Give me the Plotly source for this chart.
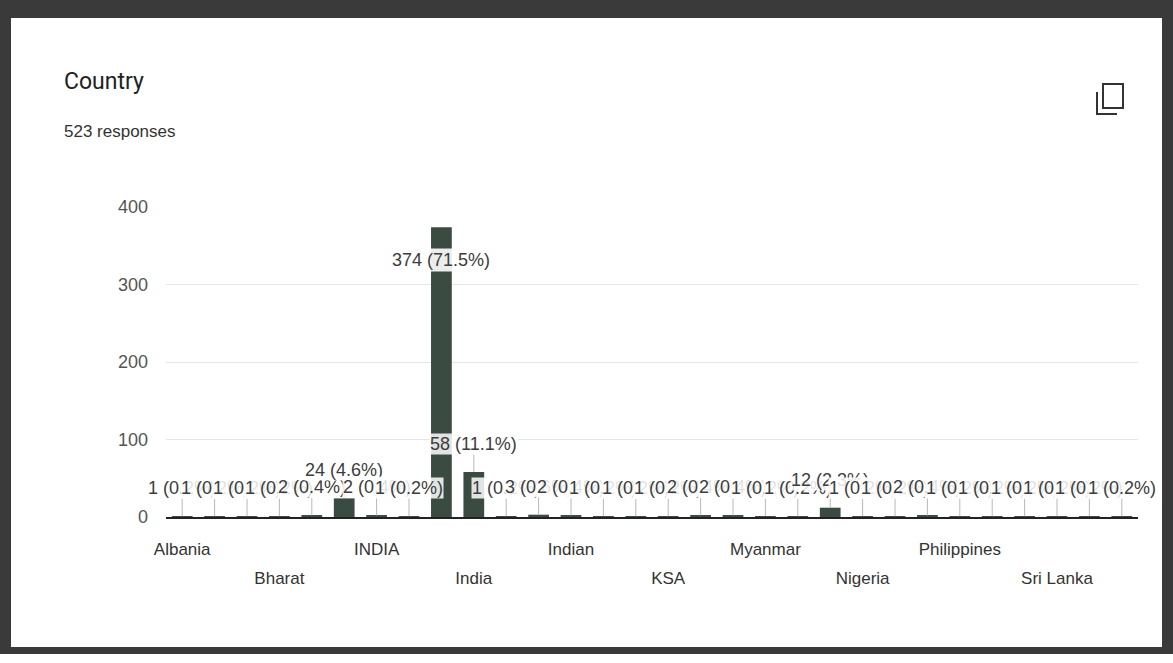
import plotly.graph_objects as go

# ---- data ----
categories = [
    "Albania", "Australia", "Bangladesh", "Bharat", "Bhutan", "Canada",
    "INDIA", "INDIA ", "India", "India ", "India,", "India.",
    "Indian", "Indonesia", "Iran", "KSA", "Kenya", "Malaysia",
    "Myanmar", "NEPAL", "Nepal", "Nigeria", "Oman", "Pakistan",
    "Philippines", "Qatar", "Saudi Arabia", "Sri Lanka", "UAE", "USA",
]
counts = [
    1, 1, 1, 1, 2, 24,
    2, 1, 374, 58, 1, 3,
    2, 1, 1, 1, 2, 2,
    1, 1, 12, 1, 1, 2,
    1, 1, 1, 1, 1, 1,
]
total_responses = 523
y_ticks = [0, 100, 200, 300, 400]
title_text = "Country"
subtitle_text = "523 responses"

# ---- geometry ----
W, H = 1173, 663
L, R, T, B = 166, 35, 207, 146
PW, PH = W - L - R, H - T - B


def px(x):
    return (x - L) / PW


def py(y):
    return (H - B - y) / PH


BAR = "#3a4b42"
TXT = "#3c3c3c"
FONT = "Liberation Sans, Arial"

fig = go.Figure()
fig.add_trace(go.Bar(
    x=categories, y=counts, marker_color=BAR, marker_line_width=0,
    hoverinfo="x+y",
))
# invisible companion trace so the second (lower-row) label axis is populated
fig.add_trace(go.Scatter(
    x=categories, y=counts, xaxis="x2", mode="markers",
    marker=dict(opacity=0, size=1), hoverinfo="skip", showlegend=False,
))

# data labels with stems
cmax = max(counts)
for c, v in zip(categories, counts):
    pct = v / total_responses * 100
    label = f"{v} ({pct:.1f}%)"
    if v == cmax:
        fig.add_annotation(x=c, y=v, text=label, showarrow=False, yshift=-33,
                           font=dict(size=18, color=TXT, family=FONT),
                           bgcolor="rgba(255,255,255,0.9)")
    else:
        fig.add_annotation(x=c, y=v, text=label, showarrow=True, arrowhead=0,
                           arrowwidth=1, arrowcolor="#b8b8b8", ax=0, ay=-28,
                           font=dict(size=18, color=TXT, family=FONT),
                           bgcolor="rgba(255,255,255,0.85)", borderpad=0)

# x tick labels: every third category, two alternating rows
shown = categories[::3]
row1 = shown[0::2]
row2 = shown[1::2]

xrange = [-0.5, len(categories) - 0.5]
common_x = dict(
    type="category", categoryorder="array", categoryarray=categories,
    range=xrange, autorange=False,
    tickmode="array", tickangle=0, showgrid=False, ticks="",
    tickfont=dict(size=17, color="#333", family=FONT),
)
fig.update_layout(
    xaxis=dict(**common_x, tickvals=row1, ticktext=[s.strip() for s in row1],
               showline=True, linecolor="#222", linewidth=2, ticklabelstandoff=16),
    xaxis2=dict(**common_x, tickvals=row2, ticktext=[s.strip() for s in row2],
                overlaying="x", matches="x", anchor="y", side="bottom",
                showline=False, ticklabelstandoff=49),
)
fig.update_yaxes(
    range=[0, 400], tickvals=y_ticks, showgrid=True, gridcolor="#e6e6e6",
    zeroline=False, ticks="", ticklabelstandoff=17,
    tickfont=dict(size=18, color="#555", family=FONT),
)

shapes = []
# photo frame
frame = "#3a3a3a"
for (x0, y0, x1, y1) in [(0, 0, W, 18), (0, 0, 11, 654), (1162, 0, W, 654), (0, 647, W, 654)]:
    shapes.append(dict(type="rect", xref="paper", yref="paper",
                       x0=px(x0), x1=px(x1), y0=py(y0), y1=py(y1),
                       fillcolor=frame, line_width=0, layer="above"))
# copy icon
shapes.append(dict(type="rect", xref="paper", yref="paper",
                   x0=px(1103), x1=px(1123), y0=py(84), y1=py(108),
                   line=dict(color="#333", width=2), fillcolor="rgba(0,0,0,0)"))
shapes.append(dict(type="path", xref="paper", yref="paper",
                   path=f"M {px(1097)} {py(92)} L {px(1097)} {py(114)} L {px(1117)} {py(114)}",
                   line=dict(color="#333", width=2)))

fig.update_layout(
    width=W, height=H, margin=dict(l=L, r=R, t=T, b=B, autoexpand=False),
    paper_bgcolor="white", plot_bgcolor="white", bargap=0.36,
    showlegend=False, shapes=shapes,
    font=dict(family=FONT),
    annotations=list(fig.layout.annotations) + [
        dict(xref="paper", yref="paper", x=px(62), y=py(82), xanchor="left", yanchor="middle",
             text=title_text, showarrow=False, font=dict(size=23, color="#222", family="Roboto")),
        dict(xref="paper", yref="paper", x=px(62), y=py(131), xanchor="left", yanchor="middle",
             text=subtitle_text, showarrow=False, font=dict(size=17, color="#333", family=FONT)),
    ],
)

fig.write_html("out.html", config={"displayModeBar": False},
               post_script="document.body.style.margin='0';")
